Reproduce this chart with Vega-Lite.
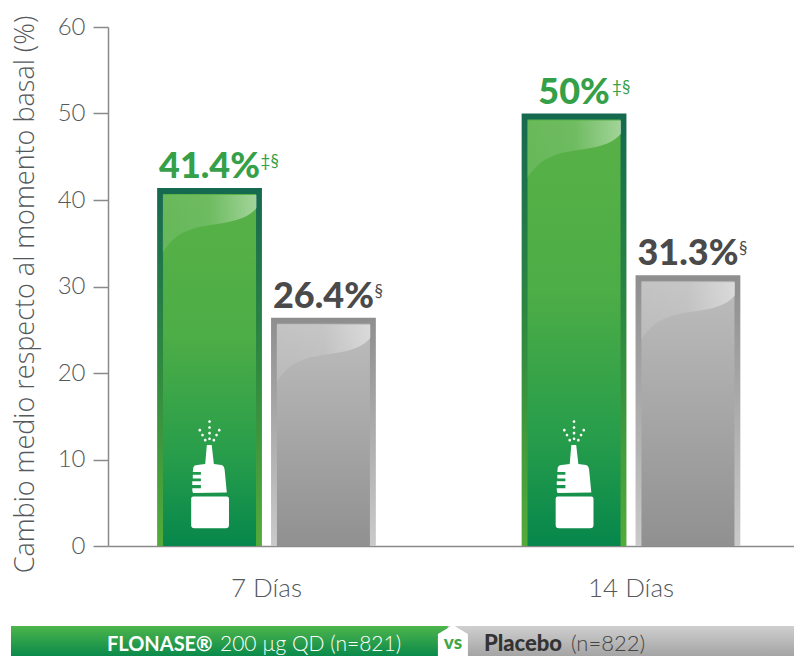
{"$schema":"https://vega.github.io/schema/vega-lite/v6.json","background":"white","padding":{"left":10,"top":15,"right":0,"bottom":0},"spacing":23,"bounds":"full","config":{"view":{"stroke":null},"font":"Lato"},
"vconcat":[
{"width":686,"height":519,
"data":{"values":[
{"day":"7 Días","series":"FLONASE","value":41.4,"main":"41.4%","sup":"‡§","wide":true},
{"day":"7 Días","series":"Placebo","value":26.4,"main":"26.4%","sup":"§","wide":true},
{"day":"14 Días","series":"FLONASE","value":50,"main":"50%","sup":"‡§","wide":false},
{"day":"14 Días","series":"Placebo","value":31.3,"main":"31.3%","sup":"§","wide":true}]},
"encoding":{
"x":{"field":"day","type":"nominal","sort":["7 Días","14 Días"],"scale":{"paddingInner":0.4,"paddingOuter":0.141,"align":0.478},
"axis":{"title":null,"labelAngle":0,"labelFont":"Lato","labelFontWeight":300,"labelFontSize":26,"labelColor":"#55595c","labelPadding":29,"ticks":false,"domainColor":"#8a8a8a","domainWidth":1.5}},
"xOffset":{"field":"series","type":"nominal","sort":["FLONASE","Placebo"],"scale":{"paddingInner":0.08,"paddingOuter":0}},
"y":{"field":"value","type":"quantitative","scale":{"domain":[0,60],"nice":false},
"axis":{"title":"Cambio medio respecto al momento basal (%)","titleFont":"Open Sans","titleFontWeight":300,"titleFontSize":27,"titleColor":"#55595c","titlePadding":18,"titleY":267,"values":[0,10,20,30,40,50,60],"grid":false,"tickSize":15,"tickColor":"#8a8a8a","tickWidth":1.5,"domainColor":"#8a8a8a","domainWidth":1.5,"labelFont":"Lato","labelFontWeight":300,"labelFontSize":24,"labelColor":"#55595c","labelPadding":8}}},
"layer":[
{"transform":[{"filter":"datum.series==='FLONASE'"}],"mark":{"type":"bar","color":{"gradient":"linear","x1":0,"x2":0,"y1":0,"y2":1,"stops":[{"offset":0,"color":"#15694f"},{"offset":0.5,"color":"#2f8a40"},{"offset":1,"color":"#54aa39"}]}}},
{"transform":[{"filter":"datum.series==='Placebo'"}],"mark":{"type":"bar","color":{"gradient":"linear","x1":0,"x2":0,"y1":0,"y2":1,"stops":[{"offset":0,"color":"#8e8e8e"},{"offset":1,"color":"#cacaca"}]}}},
{"transform":[{"filter":"datum.series==='FLONASE'"}],"mark":{"type":"bar","width":93,"yOffset":6,"clip":true,"color":{"gradient":"linear","x1":0,"x2":0,"y1":0,"y2":1,"stops":[{"offset":0,"color":"#58b147"},{"offset":0.4,"color":"#4dad46"},{"offset":0.75,"color":"#259c4b"},{"offset":1,"color":"#04854b"}]}}},
{"transform":[{"filter":"datum.series==='Placebo'"}],"mark":{"type":"bar","width":93,"yOffset":6,"clip":true,"color":{"gradient":"linear","x1":0,"x2":0,"y1":0,"y2":1,"stops":[{"offset":0,"color":"#bdbdbd"},{"offset":1,"color":"#8f8f8f"}]}}},
{"mark":{"type":"point","filled":true,"size":8836,"yOffset":36,"opacity":1,"strokeWidth":0,"shape":"M-1 -.617 L1 -.617 L1 -.34 C.85 -.15 .6 -.07 .3 -.02 C.05 .02 -.3 .05 -.57 .19 C-.75 .28 -.9 .45 -1 .617 Z","fill":{"gradient":"linear","x1":0,"x2":1,"y1":0,"y2":0,"stops":[{"offset":0,"color":"rgba(255,255,255,0.1)"},{"offset":0.5,"color":"rgba(255,255,255,0.14)"},{"offset":1,"color":"rgba(255,255,255,0.45)"}]}}},
{"transform":[{"filter":"datum.series==='FLONASE'"}],"mark":{"type":"point","filled":true,"size":11664,"opacity":1,"color":"white","strokeWidth":0,"xOffset":2,
"shape":"M-.34 .45 Q-.34 .414 -.3 .414 L.32 .414 Q.36 .414 .36 .45 L.36 .94 Q.36 1 .3 1 L-.28 1 Q-.34 1 -.34 .94 Z M-.05 -.54 L.04 -.54 L.08 -.19 L.22 -.17 Q.27 -.16 .28 -.08 L.32 .34 L-.3 .35 Q-.32 .34 -.32 .26 L-.16 .26 L-.16 .2 L-.32 .2 L-.32 .13 L-.16 .13 L-.16 .08 L-.31 .08 L-.31 .01 L-.16 .01 L-.16 -.04 L-.31 -.04 L-.3 -.13 Q-.28 -.17 -.23 -.17 L-.08 -.19 Z M-.025 -.975 a.025 .025 0 1 0 .05 0 a.025 .025 0 1 0 -.05 0 Z M-.025 -.865 a.025 .025 0 1 0 .05 0 a.025 .025 0 1 0 -.05 0 Z M-.025 -.76 a.025 .025 0 1 0 .05 0 a.025 .025 0 1 0 -.05 0 Z M-.025 -.655 a.025 .025 0 1 0 .05 0 a.025 .025 0 1 0 -.05 0 Z M-.205 -.815 a.025 .025 0 1 0 .05 0 a.025 .025 0 1 0 -.05 0 Z M-.155 -.725 a.025 .025 0 1 0 .05 0 a.025 .025 0 1 0 -.05 0 Z M-.105 -.63 a.025 .025 0 1 0 .05 0 a.025 .025 0 1 0 -.05 0 Z M.155 -.815 a.025 .025 0 1 0 .05 0 a.025 .025 0 1 0 -.05 0 Z M.105 -.725 a.025 .025 0 1 0 .05 0 a.025 .025 0 1 0 -.05 0 Z M.055 -.63 a.025 .025 0 1 0 .05 0 a.025 .025 0 1 0 -.05 0 Z"},
"encoding":{"y":{"datum":8.3}}},
{"transform":[{"filter":"datum.series==='FLONASE'"}],"mark":{"type":"text","font":"Lato","fontWeight":900,"fontSize":36,"dy":-10,"baseline":"alphabetic","align":"center","color":"#35a048"},"encoding":{"text":{"field":"main"}}},
{"transform":[{"filter":"datum.series==='Placebo'"}],"mark":{"type":"text","font":"Lato","fontWeight":900,"fontSize":36,"dy":-10,"baseline":"alphabetic","align":"center","color":"#4a4a4a"},"encoding":{"text":{"field":"main"}}},
{"transform":[{"filter":"datum.series==='FLONASE' && datum.wide"}],"mark":{"type":"text","font":"Lato","fontSize":17,"dy":-21,"dx":51,"baseline":"alphabetic","align":"left","color":"#35a048"},"encoding":{"text":{"field":"sup"}}},
{"transform":[{"filter":"datum.series==='FLONASE' && !datum.wide"}],"mark":{"type":"text","font":"Lato","fontSize":17,"dy":-21,"dx":38,"baseline":"alphabetic","align":"left","color":"#35a048"},"encoding":{"text":{"field":"sup"}}},
{"transform":[{"filter":"datum.series==='Placebo'"}],"mark":{"type":"text","font":"Lato","fontSize":17,"dy":-21,"dx":51,"baseline":"alphabetic","align":"left","color":"#4a4a4a"},"encoding":{"text":{"field":"sup"}}}
]},
{"width":686,"height":30,
"data":{"values":[{"series":"FLONASE","start":0,"end":0.558},{"series":"Placebo","start":0.558,"end":1}]},
"encoding":{"x":{"field":"start","type":"quantitative","scale":{"domain":[0.1239,1],"nice":false},"axis":null}},
"layer":[
{"transform":[{"filter":"datum.series==='FLONASE'"}],"mark":{"type":"rect","color":{"gradient":"linear","x1":0,"x2":0,"y1":0,"y2":1,"stops":[{"offset":0,"color":"#4db54b"},{"offset":1,"color":"#0a8a4b"}]}},"encoding":{"x2":{"field":"end"}}},
{"transform":[{"filter":"datum.series==='Placebo'"}],"mark":{"type":"rect","color":{"gradient":"linear","x1":0,"x2":0,"y1":0,"y2":1,"stops":[{"offset":0,"color":"#cfcfcf"},{"offset":1,"color":"#a4a4a4"}]}},"encoding":{"x2":{"field":"end"}}},
{"transform":[{"filter":"datum.series==='FLONASE'"}],"mark":{"type":"text","font":"Lato","fontWeight":700,"fontSize":20,"align":"left","baseline":"middle","dx":96,"dy":4,"color":"white"},"encoding":{"text":{"value":"FLONASE®"}}},
{"transform":[{"filter":"datum.series==='FLONASE'"}],"mark":{"type":"text","font":"Lato","fontWeight":300,"fontSize":21,"align":"left","baseline":"middle","dx":209,"dy":4,"color":"white"},"encoding":{"text":{"value":"200 µg QD (n=821)"}}},
{"transform":[{"filter":"datum.series==='Placebo'"}],"mark":{"type":"text","font":"Lato","fontWeight":900,"fontSize":22,"align":"left","baseline":"middle","dx":36,"dy":3,"color":"#333333"},"encoding":{"text":{"value":"Placebo"}}},
{"transform":[{"filter":"datum.series==='Placebo'"}],"mark":{"type":"text","font":"Lato","fontWeight":300,"fontSize":22,"align":"left","baseline":"middle","dx":123,"dy":3,"color":"#444444"},"encoding":{"text":{"value":"(n=822)"}}},
{"transform":[{"filter":"datum.series==='Placebo'"}],"mark":{"type":"point","filled":true,"opacity":1,"size":900,"color":"white","strokeWidth":0,"shape":"M0 -1.07 L1 -.47 L1 1 L-1 1 L-1 -.47 Z","xOffset":5}},
{"transform":[{"filter":"datum.series==='Placebo'"}],"mark":{"type":"text","font":"Lato","fontWeight":900,"fontSize":19,"align":"center","baseline":"middle","dx":5,"dy":2,"color":"#3fa648"},"encoding":{"text":{"value":"vs"}}}
]}
]}
